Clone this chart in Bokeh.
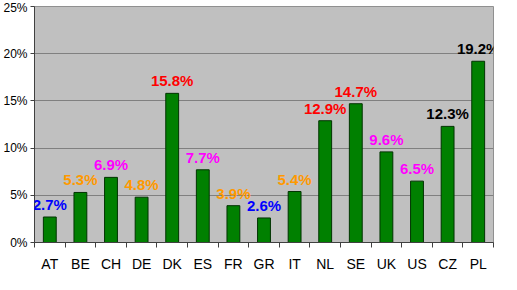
from bokeh.plotting import figure
from bokeh.models import ColumnDataSource, FixedTicker, LabelSet, Range1d
from bokeh.core.properties import value
from bokeh.embed import file_html
from bokeh.resources import INLINE

categories = ["AT", "BE", "CH", "DE", "DK", "ES", "FR", "GR", "IT", "NL", "SE", "UK", "US", "CZ", "PL"]
values = [2.7, 5.3, 6.9, 4.8, 15.8, 7.7, 3.9, 2.6, 5.4, 12.9, 14.7, 9.6, 6.5, 12.3, 19.2]
label_colors = ["#0000FF", "#FF9900", "#FF00FF", "#FF9900", "#FF0000", "#FF00FF", "#FF9900", "#0000FF",
                "#FF9900", "#FF0000", "#FF0000", "#FF00FF", "#FF00FF", "#000000", "#000000"]
y_ticks = [0, 5, 10, 15, 20, 25]
y_tick_labels = ["0%", "5%", "10%", "15%", "20%", "25%"]

idx = list(range(len(categories)))
source = ColumnDataSource(dict(
    x=idx,
    top=values,
    label=[f"{v:.1f}%" for v in values],
    color=label_colors,
))

p = figure(width=501, height=274, output_backend="svg", toolbar_location=None,
           x_range=Range1d(-0.5, len(categories) - 0.5), y_range=Range1d(0, 25),
           min_border_left=30, min_border_right=8, min_border_top=6, min_border_bottom=24)
p.background_fill_color = "#C0C0C0"
p.border_fill_color = "white"
p.outline_line_color = "#909090"

p.vbar(x="x", top="top", width=0.42, bottom=0, source=source,
       fill_color="#008000", line_color="#003300", line_width=1)

labels = LabelSet(x="x", y="top", text="label", source=source, text_color="color",
                  text_align="center", text_baseline="alphabetic", y_offset=7,
                  text_font=value("Liberation Sans"), text_font_style="bold", text_font_size="15px",
                  level="overlay")
p.add_layout(labels)

p.xgrid.visible = False
p.ygrid.grid_line_color = "#808080"
p.ygrid.grid_line_width = 1
p.yaxis.ticker = FixedTicker(ticks=y_ticks)
p.yaxis.major_label_overrides = {t: l for t, l in zip(y_ticks, y_tick_labels)}
p.yaxis.minor_tick_line_color = None
p.yaxis.major_tick_out = 4
p.yaxis.major_tick_in = 0
p.yaxis.axis_line_color = "#404040"
p.yaxis.major_tick_line_color = "#404040"
p.yaxis.major_label_text_font = "Liberation Sans"
p.yaxis.major_label_text_font_size = "12px"
p.yaxis.major_label_text_color = "black"
p.yaxis.major_label_standoff = 3

p.xaxis.ticker = FixedTicker(ticks=idx, minor_ticks=[i - 0.5 for i in range(len(categories) + 1)])
p.xaxis.major_label_overrides = {i: c for i, c in zip(idx, categories)}
p.xaxis.major_tick_out = 0
p.xaxis.major_tick_in = 0
p.xaxis.minor_tick_out = 5
p.xaxis.minor_tick_in = 0
p.xaxis.axis_line_color = "#404040"
p.xaxis.minor_tick_line_color = "#404040"
p.xaxis.major_label_text_font = "Liberation Sans"
p.xaxis.major_label_text_font_size = "14px"
p.xaxis.major_label_text_color = "black"
p.xaxis.major_label_standoff = 8

open("out.html", "w").write(file_html(p, INLINE))
